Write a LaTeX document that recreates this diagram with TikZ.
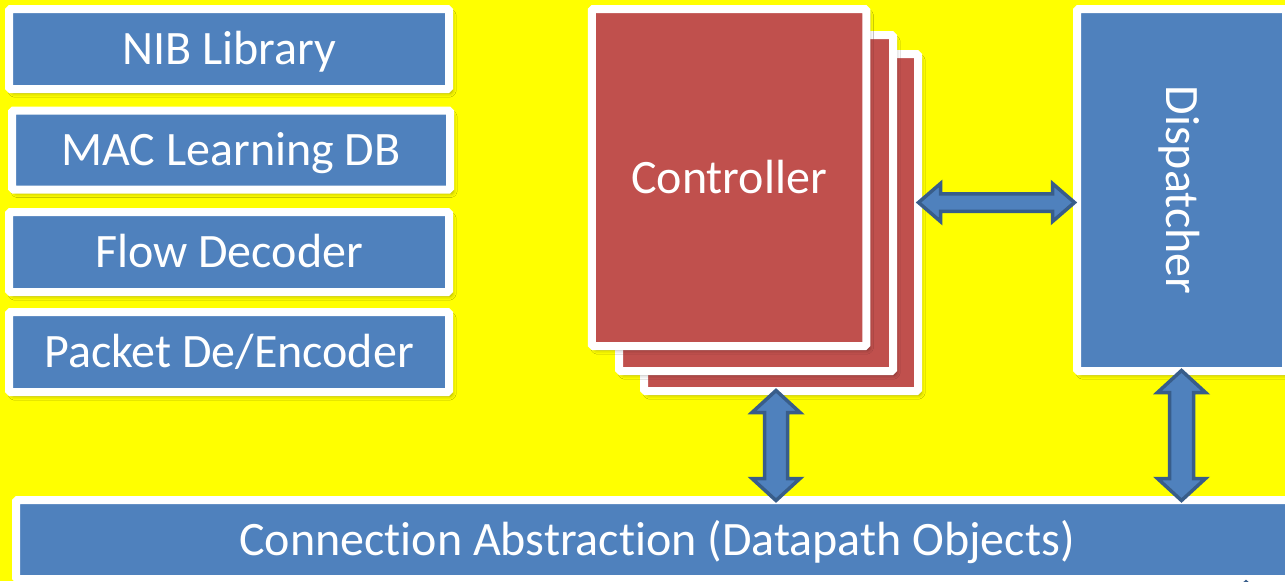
\documentclass[tikz,border=0pt]{standalone}
\usepackage{fontspec}
\setmainfont{Carlito}[Ligatures=NoCommon]
\usetikzlibrary{calc,shadows.blur}

\definecolor{boxblue}{HTML}{4F81BD}
\definecolor{boxred}{HTML}{C0504D}
\definecolor{edgeblue}{HTML}{385D8A}
\definecolor{bgyellow}{HTML}{FFFF00}

\tikzset{
  labelfont/.style={text=white, inner sep=0pt,
    font=\fontsize{48}{56}\selectfont,
    text height=31pt, text depth=0pt},
  panel/.style={labelfont, draw=white, line width=8pt, rounded corners=1.5pt,
    fill=boxblue,
    blur shadow={shadow xshift=3pt, shadow yshift=-4pt,
      shadow blur radius=4pt, shadow opacity=35}},
  redpanel/.style={panel, fill=boxred},
  blockarrow/.style={fill=boxblue, draw=edgeblue, line width=3.5pt,
    line join=miter, miter limit=10},
}

% vertical double block arrow: tip #1, tip #2, head half width, shaft half width, head length
\newcommand\vblock[5]{%
  \draw[blockarrow] let \p1=(#1), \p2=(#2) in
    (\x1,\y1) -- (\x1+#3,\y1-#5) -- (\x1+#4,\y1-#5) -- (\x1+#4,\y2+#5)
    -- (\x1+#3,\y2+#5) -- (\x1,\y2) -- (\x1-#3,\y2+#5) -- (\x1-#4,\y2+#5)
    -- (\x1-#4,\y1-#5) -- (\x1-#3,\y1-#5) -- cycle;}
% horizontal double block arrow: left tip #1, right tip #2
\newcommand\hblock[5]{%
  \draw[blockarrow] let \p1=(#1), \p2=(#2) in
    (\x1,\y1) -- (\x1+#5,\y1+#3) -- (\x1+#5,\y1+#4) -- (\x2-#5,\y1+#4)
    -- (\x2-#5,\y1+#3) -- (\x2,\y1) -- (\x2-#5,\y1-#3) -- (\x2-#5,\y1-#4)
    -- (\x1+#5,\y1-#4) -- (\x1+#5,\y1-#3) -- cycle;}

\begin{document}
\begin{tikzpicture}[x=1pt, y=-1pt]
  \useasboundingbox (0,0) rectangle (1285,581);
  \clip (0,0) rectangle (1285,581);
  \fill[bgyellow] (0,0) rectangle (1285,581);

  % library stack
  \node[panel, minimum width=440, minimum height=80] (nib)  at (229,49)  {NIB Library};
  \node[panel, minimum width=438, minimum height=79] (mac)  at (231,150) {MAC Learning DB};
  \node[panel, minimum width=440, minimum height=80] (flow) at (229,252) {Flow Decoder};
  \node[panel, minimum width=440, minimum height=80] (pkt)  at (229,352) {Packet De/Encoder};

  % controller instances, back to front
  \node[redpanel, minimum width=274, minimum height=337] (ctrl3) at (781,222.5) {};
  \node[redpanel, minimum width=274, minimum height=336] (ctrl2) at (756,203) {};
  \node[redpanel, minimum width=274.5, minimum height=337] (ctrl1) at (729,177.5) {Controller};

  % dispatcher
  \node[panel, minimum width=209, minimum height=362] (disp) at (1181.5,190) {};
  \node[labelfont, rotate=-90] (disptext) at (disp.center) {Dispatcher};

  % datapath layer
  \node[panel, minimum width=1282, minimum height=79] (conn) at (657,539.5)
    {Connection Abstraction (Datapath Objects)};

  % connectors
  \coordinate (ca) at ($(ctrl3.south)+(-5,-4.5)$);
  \coordinate (cb) at ($(ca |- conn.north)+(0,4.5)$);
  \vblock{ca}{cb}{24pt}{11.5pt}{22pt}

  \coordinate (da) at ($(disp.south)+(0,-4.5)$);
  \coordinate (db) at ($(da |- conn.north)+(0,4.5)$);
  \vblock{da}{db}{24pt}{12pt}{22pt}

  \coordinate (ha) at ($(ctrl3.east)+(-3.5,-20)$);
  \coordinate (hb) at ($(disp.west |- ha)+(1.5,0)$);
  \hblock{ha}{hb}{19pt}{8.75pt}{22pt}

  % arrow rising from below the datapath layer
  \coordinate (et) at ($(conn.south -| 1246,0)+(0,-1)$);
  \draw[blockarrow] (et) -- ++(24,22) -- ++(-12,0) -- ++(0,40)
    -- ++(-24,0) -- ++(0,-40) -- ++(-12,0) -- cycle;
\end{tikzpicture}
\end{document}
